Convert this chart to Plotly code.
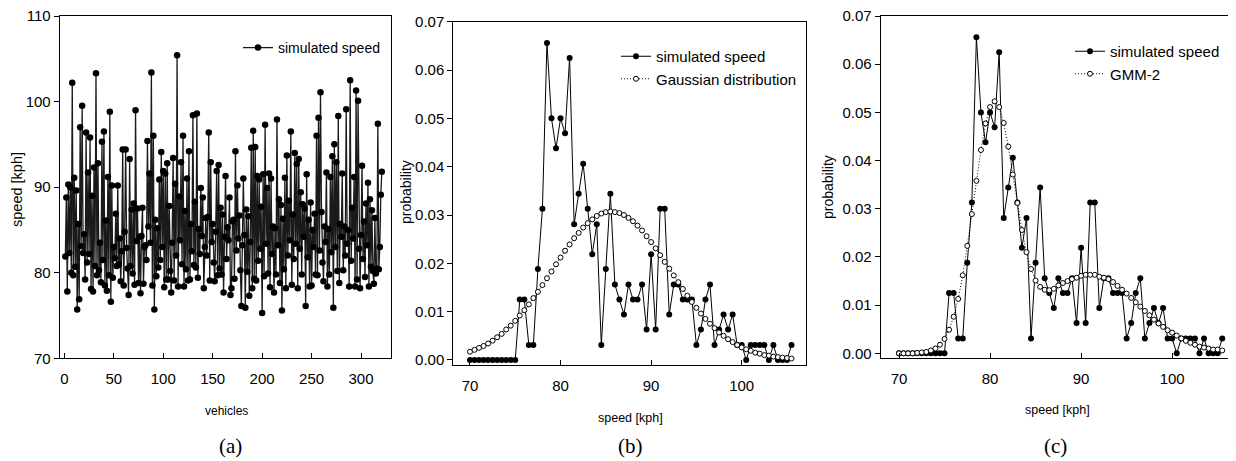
import plotly.graph_objects as go

# -----------------------------------------------------------------------------
# Data
# -----------------------------------------------------------------------------

# (a) simulated speed of each vehicle [kph]
speed = [
    81.9, 88.8, 77.8, 90.3, 82.3, 90.0, 80.0, 102.2, 79.7, 91.1,
    80.7, 89.6, 75.7, 85.7, 76.9, 97.0, 83.1, 99.5, 82.3, 84.5,
    79.2, 96.4, 81.2, 91.7, 82.2, 95.8, 78.1, 89.0, 77.8, 92.3,
    80.8, 103.3, 79.7, 92.8, 80.3, 83.5, 78.9, 95.3, 81.5, 96.5,
    78.5, 86.1, 77.9, 91.2, 79.7, 98.8, 76.6, 90.2, 79.4, 83.0,
    81.7, 86.9, 80.8, 90.2, 81.0, 84.0, 79.0, 82.5, 94.4, 78.5,
    84.8, 94.4, 82.9, 80.5, 77.4, 93.3, 80.8, 87.4, 79.9, 88.1,
    78.6, 99.0, 83.7, 87.5, 78.8, 84.2, 77.6, 84.3, 87.6, 78.7,
    83.0, 83.2, 81.5, 95.4, 85.4, 91.6, 83.5, 103.4, 78.5, 96.0,
    75.7, 86.2, 79.6, 85.2, 80.6, 90.9, 81.5, 94.1, 83.0, 91.9,
    78.3, 91.6, 79.2, 92.8, 79.2, 87.8, 80.2, 77.7, 83.5, 93.4,
    79.1, 90.4, 82.0, 105.4, 78.4, 88.9, 83.8, 92.9, 81.0, 96.0,
    78.4, 87.2, 80.4, 91.0, 79.1, 94.2, 79.2, 85.7, 82.5, 98.4,
    80.9, 88.3, 80.6, 98.6, 79.4, 85.1, 82.2, 89.9, 84.3, 88.8,
    78.2, 83.0, 86.4, 82.0, 86.5, 96.4, 79.1, 92.9, 83.6, 85.7,
    81.2, 79.0, 84.8, 91.9, 79.7, 92.6, 80.5, 87.6, 79.8, 86.8,
    77.7, 84.2, 91.3, 81.6, 85.3, 83.8, 88.8, 77.4, 78.2, 86.0,
    86.2, 79.3, 94.2, 82.6, 90.2, 84.0, 86.7, 80.3, 76.1, 83.2,
    91.0, 84.4, 75.9, 87.4, 80.1, 86.6, 77.3, 83.6, 94.6, 78.2,
    96.6, 79.3, 94.7, 79.1, 91.3, 81.4, 90.9, 82.8, 87.7, 75.3,
    91.5, 79.6, 97.3, 83.4, 89.9, 79.9, 91.6, 78.3, 91.0, 82.2,
    85.4, 77.7, 85.2, 79.8, 97.9, 83.2, 88.6, 78.8, 87.9, 75.6,
    86.3, 80.4, 91.1, 78.2, 93.7, 82.0, 88.4, 83.8, 96.5, 78.6,
    86.8, 81.6, 94.0, 83.4, 92.7, 78.2, 93.3, 82.8, 89.4, 79.8,
    88.0, 84.2, 87.5, 76.1, 91.5, 81.8, 86.2, 78.4, 88.2, 78.5,
    85.0, 83.0, 86.9, 79.8, 96.0, 79.7, 98.1, 82.6, 101.1, 87.1,
    81.2, 79.0, 85.4, 83.6, 91.7, 78.4, 85.1, 79.8, 91.2, 82.4,
    93.6, 75.9, 95.0, 83.0, 92.9, 80.2, 98.3, 78.8, 85.7, 84.2,
    91.6, 80.3, 85.4, 82.0, 99.1, 83.4, 85.0, 78.4, 102.5, 81.4,
    87.6, 84.0, 91.2, 78.4, 101.3, 79.2, 100.1, 82.8, 78.2, 84.4,
    92.5, 81.6, 86.0, 79.5, 88.1, 83.2, 90.5, 78.4, 88.6, 80.7,
    87.3, 80.2, 78.7, 86.4, 79.9, 80.5, 97.4, 80.4, 83.0, 89.1,
    91.8,
]
vehicles = list(range(1, len(speed) + 1))

# (b), (c) speed bins [kph]
speed_bins = [
    70.0, 70.5, 71.0, 71.5, 72.0, 72.5, 73.0, 73.5, 74.0, 74.5,
    75.0, 75.5, 76.0, 76.5, 77.0, 77.5, 78.0, 78.5, 79.0, 79.5,
    80.0, 80.5, 81.0, 81.5, 82.0, 82.5, 83.0, 83.5, 84.0, 84.5,
    85.0, 85.5, 86.0, 86.5, 87.0, 87.5, 88.0, 88.5, 89.0, 89.5,
    90.0, 90.5, 91.0, 91.5, 92.0, 92.5, 93.0, 93.5, 94.0, 94.5,
    95.0, 95.5, 96.0, 96.5, 97.0, 97.5, 98.0, 98.5, 99.0, 99.5,
    100.0, 100.5, 101.0, 101.5, 102.0, 102.5, 103.0, 103.5, 104.0, 104.5,
    105.0, 105.5,
]

# empirical probability of the simulated speed
sim_prob = [
    0.0, 0.0, 0.0, 0.0, 0.0, 0.0, 0.0, 0.0, 0.0, 0.0,
    0.0, 0.0125, 0.0125, 0.0031, 0.0031, 0.0188, 0.0313, 0.0656, 0.05, 0.0438,
    0.05, 0.0469, 0.0625, 0.0281, 0.0344, 0.0406, 0.0313, 0.0219, 0.0281, 0.0031,
    0.0188, 0.0344, 0.0156, 0.0125, 0.0094, 0.0156, 0.0125, 0.0125, 0.0156, 0.0063,
    0.0219, 0.0063, 0.0313, 0.0313, 0.0094, 0.0156, 0.0156, 0.0125, 0.0125, 0.0125,
    0.0031, 0.0063, 0.0125, 0.0156, 0.0031, 0.0063, 0.0094, 0.0063, 0.0094, 0.0031,
    0.0031, 0.0, 0.0031, 0.0031, 0.0031, 0.0031, 0.0, 0.0031, 0.0, 0.0,
    0.0, 0.0031,
]

# fitted single Gaussian
gauss_prob = [
    0.0017, 0.0021, 0.0025, 0.0029, 0.0034, 0.0040, 0.0047, 0.0054, 0.0063, 0.0071,
    0.0081, 0.0092, 0.0103, 0.0115, 0.0128, 0.0141, 0.0155, 0.0169, 0.0183, 0.0198,
    0.0212, 0.0226, 0.0239, 0.0252, 0.0263, 0.0274, 0.0283, 0.0291, 0.0298, 0.0303,
    0.0306, 0.0307, 0.0306, 0.0304, 0.0300, 0.0294, 0.0287, 0.0278, 0.0268, 0.0256,
    0.0244, 0.0231, 0.0217, 0.0203, 0.0189, 0.0175, 0.0161, 0.0147, 0.0133, 0.0120,
    0.0108, 0.0096, 0.0085, 0.0075, 0.0066, 0.0057, 0.0050, 0.0043, 0.0037, 0.0031,
    0.0026, 0.0022, 0.0019, 0.0015, 0.0013, 0.0010, 0.0009, 0.0007, 0.0006, 0.0005,
    0.0004, 0.0003,
]

# fitted two-component Gaussian mixture
gmm_prob = [
    0.0, 0.0, 0.0, 0.0, 0.0001, 0.0002, 0.0003, 0.0006, 0.0010, 0.0018,
    0.0030, 0.0049, 0.0076, 0.0113, 0.0162, 0.0223, 0.0289, 0.0358, 0.0422, 0.0477,
    0.0511, 0.0523, 0.0511, 0.0478, 0.0429, 0.0371, 0.0312, 0.0256, 0.0210, 0.0175,
    0.0151, 0.0138, 0.0132, 0.0131, 0.0134, 0.0141, 0.0146, 0.0150, 0.0154, 0.0157,
    0.0161, 0.0163, 0.0163, 0.0163, 0.0159, 0.0157, 0.0154, 0.0148, 0.0140, 0.0132,
    0.0124, 0.0115, 0.0106, 0.0097, 0.0088, 0.0079, 0.0070, 0.0062, 0.0055, 0.0048,
    0.0043, 0.0037, 0.0031, 0.0026, 0.0022, 0.0018, 0.0014, 0.0012, 0.0010, 0.0008,
    0.0008, 0.0006,
]

# -----------------------------------------------------------------------------
# Figure
# -----------------------------------------------------------------------------

# the page body keeps its default 8px margin, so the figure is drawn 8px in
BODY = 8
W, H = 1236 - BODY, 461 - BODY
FONT = "Liberation Sans, Arial, sans-serif"


def px_x(p):
    # screen pixel -> paper fraction
    return (p - BODY) / W


def px_y(p):
    return 1 - (p - BODY) / H


fig = go.Figure()

fig.add_trace(go.Scatter(
    x=vehicles, y=speed, mode="lines+markers", name="simulated speed",
    line=dict(color="#1a1a1a", width=1.3),
    marker=dict(color="black", size=6.5),
    xaxis="x", yaxis="y", legend="legend", showlegend=True))

fig.add_trace(go.Scatter(
    x=speed_bins, y=sim_prob, mode="lines+markers", name="simulated speed",
    line=dict(color="black", width=1),
    marker=dict(color="black", size=6),
    xaxis="x2", yaxis="y2", legend="legend2"))
fig.add_trace(go.Scatter(
    x=speed_bins, y=gauss_prob, mode="lines+markers", name="Gaussian distribution",
    line=dict(color="black", width=1, dash="1px,2px"),
    marker=dict(color="white", size=5, line=dict(color="black", width=1)),
    xaxis="x2", yaxis="y2", legend="legend2"))

fig.add_trace(go.Scatter(
    x=speed_bins, y=sim_prob, mode="lines+markers", name="simulated speed",
    line=dict(color="black", width=1),
    marker=dict(color="black", size=6),
    xaxis="x3", yaxis="y3", legend="legend3"))
fig.add_trace(go.Scatter(
    x=speed_bins, y=gmm_prob, mode="lines+markers", name="GMM-2",
    line=dict(color="black", width=1, dash="1px,2px"),
    marker=dict(color="white", size=5, line=dict(color="black", width=1)),
    xaxis="x3", yaxis="y3", legend="legend3"))

tick_font = dict(family=FONT, size=15, color="black")


def xaxis(domain, rng, dtick, anchor):
    return dict(domain=domain, range=rng, dtick=dtick, anchor=anchor,
                showgrid=False, zeroline=False, showline=True, mirror=True,
                linecolor="black", linewidth=1, ticks="inside", ticklen=5,
                tickcolor="black", tickfont=tick_font, ticklabelstandoff=7,
                automargin=False, ticklabeloverflow="allow")


def yaxis(domain, rng, dtick, anchor, fmt=None):
    d = dict(domain=domain, range=rng, dtick=dtick, anchor=anchor,
             showgrid=False, zeroline=False, showline=True, mirror=True,
             linecolor="black", linewidth=1, ticks="outside", ticklen=5,
             tickcolor="black", tickfont=tick_font, automargin=False,
             ticklabeloverflow="allow")
    if fmt:
        d["tickformat"] = fmt
    return d


legend_a = dict(family=FONT, size=14, color="black")
legend_bc = dict(family=FONT, size=15, color="black")

fig.update_layout(
    width=W, height=H,
    margin=dict(l=0, r=0, t=0, b=0, pad=0, autoexpand=False),
    paper_bgcolor="white", plot_bgcolor="white",
    showlegend=True,
    xaxis=xaxis([px_x(59.7), px_x(391)], [-4.7, 330.3], 50, "y"),
    yaxis=yaxis([px_y(358.3), px_y(16)], [70, 110], 10, "x"),
    xaxis2=xaxis([px_x(453.3), px_x(806)], [68.16, 107.1], 10, "y2"),
    yaxis2=yaxis([px_y(365), px_y(21.7)], [-0.00104, 0.07], 0.01, "x2", ".2f"),
    xaxis3=xaxis([px_x(880.7), px_x(1235)], [67.99, 106.9], 10, "y3"),
    yaxis3=yaxis([px_y(357.7), px_y(16)], [-0.0009, 0.07], 0.01, "x3", ".2f"),
    legend=dict(x=px_x(238), y=px_y(32), xanchor="left", yanchor="top",
                bgcolor="rgba(0,0,0,0)", font=legend_a),
    legend2=dict(x=px_x(616), y=px_y(40), xanchor="left", yanchor="top",
                 bgcolor="rgba(0,0,0,0)", font=legend_bc),
    legend3=dict(x=px_x(1070), y=px_y(35), xanchor="left", yanchor="top",
                 bgcolor="rgba(0,0,0,0)", font=legend_bc),
)

panel_font = dict(family="Liberation Serif, Times New Roman, serif", size=21, color="black")


def lf(size):
    return dict(family=FONT, size=size, color="black")


labels = [
    (17, 190, "speed [kph]", lf(14.5), -90),
    (226, 411, "vehicles", lf(12), 0),
    (406, 192, "probability", lf(14), -90),
    (630, 418, "speed [kph]", lf(12.5), 0),
    (828, 187, "probability", lf(14), -90),
    (1057, 410, "speed [kph]", lf(12.5), 0),
    (230, 446, "(a)", panel_font, 0),
    (630, 446, "(b)", panel_font, 0),
    (1055, 446, "(c)", panel_font, 0),
]
for x, y, text, font, angle in labels:
    fig.add_annotation(x=px_x(x), y=px_y(y), xref="paper", yref="paper",
                       text=text, showarrow=False, font=font, textangle=angle,
                       xanchor="center", yanchor="middle")

fig.write_html("out.html")
